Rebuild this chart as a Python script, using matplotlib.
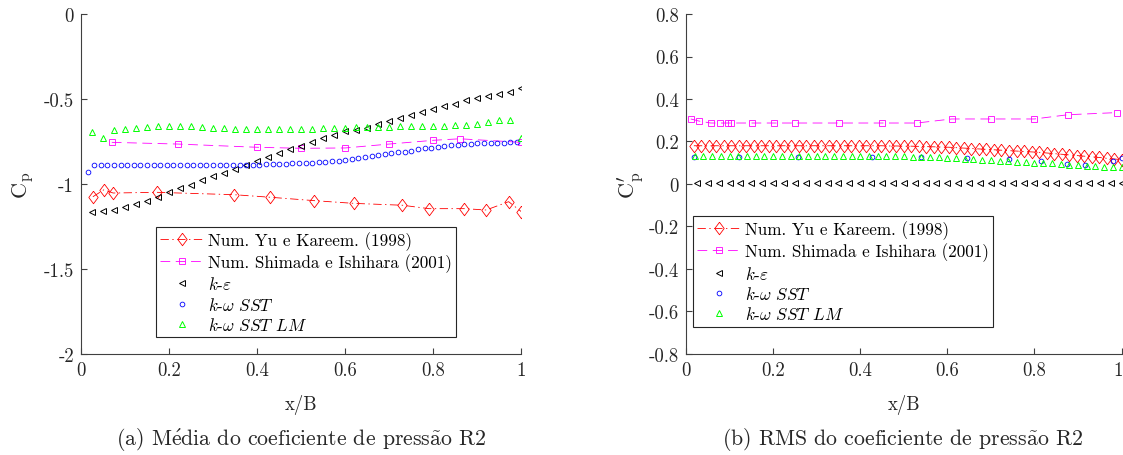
import numpy as np
import matplotlib
matplotlib.use("Agg")
import matplotlib.pyplot as plt
import matplotlib.transforms as mtransforms
from matplotlib.ticker import FuncFormatter

plt.rcParams["font.family"] = "cmr10"
plt.rcParams["mathtext.fontset"] = "cm"
plt.rcParams["axes.unicode_minus"] = False
plt.rcParams["lines.scale_dashes"] = False

# ---------------------------
# (a) mean Cp
# ---------------------------
yu_x = [0.027, 0.052, 0.073, 0.172, 0.348, 0.43, 0.53, 0.62, 0.73, 0.79, 0.87, 0.92, 0.971, 1.0]
yu_cp = [-1.075, -1.034, -1.053, -1.049, -1.063, -1.078, -1.098, -1.114, -1.125, -1.145,
         -1.145, -1.153, -1.104, -1.163]

shi_x = [0.07, 0.22, 0.40, 0.50, 0.60, 0.70, 0.80, 0.86, 1.0]
shi_cp = [-0.755, -0.765, -0.784, -0.790, -0.788, -0.765, -0.743, -0.734, -0.755]

ke_x = np.linspace(0.025, 1.0, 40)
ke_cp = [-1.163, -1.157, -1.151, -1.137, -1.120, -1.098, -1.079, -1.045, -1.024, -1.004,
         -0.979, -0.953, -0.935, -0.912, -0.886, -0.867, -0.839, -0.820, -0.794, -0.775,
         -0.751, -0.730, -0.710, -0.690, -0.682, -0.671, -0.649, -0.628, -0.612, -0.594,
         -0.575, -0.559, -0.541, -0.528, -0.508, -0.494, -0.481, -0.469, -0.457, -0.433]

sst_x = np.linspace(0.015, 0.99, 66)
sst_cp = [-0.931, -0.888, -0.888, -0.888, -0.888, -0.888, -0.888, -0.888, -0.888, -0.888,
          -0.888, -0.888, -0.888, -0.888, -0.888, -0.888, -0.888, -0.888, -0.888, -0.888,
          -0.888, -0.888, -0.888, -0.888, -0.888, -0.887, -0.886, -0.885, -0.884, -0.882,
          -0.880, -0.879, -0.877, -0.876, -0.874, -0.872, -0.869, -0.866, -0.862, -0.857,
          -0.852, -0.847, -0.842, -0.837, -0.832, -0.826, -0.820, -0.814, -0.809, -0.803,
          -0.797, -0.791, -0.786, -0.781, -0.776, -0.772, -0.768, -0.765, -0.763, -0.761,
          -0.759, -0.758, -0.757, -0.756, -0.755, -0.754]

lm_x = np.linspace(0.025, 1.0, 40)
lm_cp = [-0.696, -0.731, -0.682, -0.679, -0.671, -0.665, -0.659, -0.657, -0.657, -0.661,
         -0.667, -0.671, -0.673, -0.677, -0.679, -0.679, -0.679, -0.679, -0.677, -0.675,
         -0.675, -0.673, -0.671, -0.669, -0.667, -0.667, -0.665, -0.663, -0.661, -0.661,
         -0.659, -0.659, -0.657, -0.655, -0.653, -0.647, -0.637, -0.624, -0.622, -0.728]

# ---------------------------
# (b) rms Cp
# ---------------------------
yu_rms_x = np.linspace(0.018, 1.0, 58)
yu_rms = [0.180] * 26 + [0.179, 0.179, 0.178, 0.178, 0.177, 0.176, 0.175, 0.174, 0.173, 0.171,
                         0.169, 0.167, 0.165, 0.163, 0.161, 0.159, 0.157, 0.155, 0.153, 0.151,
                         0.149, 0.146, 0.143, 0.140, 0.137, 0.134, 0.131, 0.128, 0.125, 0.121,
                         0.118, 0.114]

shi_rms_x = [0.011, 0.030, 0.057, 0.077, 0.096, 0.103, 0.151, 0.201, 0.251, 0.352, 0.45,
             0.53, 0.61, 0.70, 0.80, 0.877, 0.989]
shi_rms = [0.306, 0.296, 0.287, 0.287, 0.287, 0.287, 0.287, 0.287, 0.287, 0.287, 0.287,
           0.287, 0.306, 0.306, 0.306, 0.326, 0.336]

ke_rms_x = np.linspace(0.025, 1.0, 40)
ke_rms = [0.004] * 40

sst_rms_x = [0.018, 0.122, 0.256, 0.426, 0.540, 0.645, 0.741, 0.815, 0.875, 0.916, 0.980, 1.0]
sst_rms = [0.129, 0.125, 0.125, 0.125, 0.127, 0.121, 0.118, 0.108, 0.096, 0.089, 0.108, 0.121]

lm_rms_x = np.linspace(0.02, 1.0, 50)
lm_rms = [0.130] * 25 + [0.129, 0.128, 0.127, 0.125, 0.122, 0.120, 0.118, 0.116, 0.113, 0.111,
                         0.109, 0.107, 0.105, 0.103, 0.101, 0.099, 0.097, 0.094, 0.091, 0.088,
                         0.085, 0.083, 0.081, 0.079, 0.078]

labels = ["Num. Yu e Kareem. (1998)", "Num. Shimada e Ishihara (2001)",
          r"$k$-$\varepsilon$", r"$k$-$\omega$ $SST$", r"$k$-$\omega$ $SST$ $LM$"]

diamond = [(0, 1), (0.75, 0), (0, -1), (-0.75, 0), (0, 1)]
axcol = "#404040"
txtcol = "#262626"


def draw(ax, series):
    (yx, yy), (sx, sy), (kx, ky), (wx, wy), (lx, ly) = series
    ax.plot(yx, yy, color="#ff0000", lw=0.6, dashes=(6, 2.5, 1, 2.5), marker=diamond,
            ms=9, mfc="none", mew=0.6, label=labels[0])
    ax.plot(sx, sy, color="#ff00ff", lw=0.6, dashes=(7, 4), marker="s",
            ms=4.5, mfc="none", mew=0.6, label=labels[1])
    ax.plot(kx, ky, ls="none", color="black", marker="<", ms=3.8, mfc="none", mew=0.7,
            label=labels[2])
    ax.plot(wx, wy, ls="none", color="#0000ff", marker="o", ms=3.4, mfc="none", mew=0.6,
            label=labels[3])
    ax.plot(lx, ly, ls="none", color="#00ff00", marker="^", ms=4.2, mfc="none", mew=0.7,
            label=labels[4])
    for s in ["top", "right"]:
        ax.spines[s].set_visible(False)
    for s in ["left", "bottom"]:
        ax.spines[s].set_color(axcol)
        ax.spines[s].set_linewidth(0.8)
    ax.tick_params(direction="in", length=4, width=0.8, color=axcol, labelsize=13.5,
                   labelcolor=txtcol, pad=5)
    ax.set_xlim(0, 1)
    ax.set_xticks([0, 0.2, 0.4, 0.6, 0.8, 1.0])
    fmt = FuncFormatter(lambda v, p: "%g" % round(v, 2))
    ax.xaxis.set_major_formatter(fmt)
    ax.yaxis.set_major_formatter(fmt)
    ax.set_xlabel("x/B", fontsize=13.5, color=txtcol, labelpad=11)


fig = plt.figure(figsize=(11.23, 4.56), dpi=100)
ax1 = fig.add_axes([0.0721, 0.2215, 0.3922, 0.7456])
ax2 = fig.add_axes([0.6109, 0.2215, 0.3878, 0.7456])

draw(ax1, [(yu_x, yu_cp), (shi_x, shi_cp), (ke_x, ke_cp), (sst_x, sst_cp), (lm_x, lm_cp)])
ax1.set_ylim(-2, 0)
ax1.set_yticks([-2, -1.5, -1, -0.5, 0])
ax1.set_ylabel(r"$\mathrm{C_p}$", fontsize=16, color=txtcol, labelpad=5)

draw(ax2, [(yu_rms_x, yu_rms), (shi_rms_x, shi_rms), (ke_rms_x, ke_rms),
           (sst_rms_x, sst_rms), (lm_rms_x, lm_rms)])
ax2.set_ylim(-0.8, 0.8)
ax2.set_yticks([-0.8, -0.6, -0.4, -0.2, 0, 0.2, 0.4, 0.6, 0.8])
ax2.set_ylabel(r"$\mathrm{C_p^{\prime}}$", fontsize=16, color=txtcol, labelpad=2)

# keep the last x tick label of (b) inside the canvas
fig.canvas.draw()
last = ax2.get_xticklabels()[-1]
last.set_transform(last.get_transform() +
                   mtransforms.ScaledTranslation(-3 / 100, 0, fig.dpi_scale_trans))

for ax, anchor in [(ax1, (0.170, 0.374)), (ax2, (0.016, 0.406))]:
    leg = ax.legend(loc="upper left", bbox_to_anchor=anchor, borderaxespad=0, fontsize=12.3,
                    handlelength=2.6, handletextpad=0.2, labelspacing=0.2, borderpad=0.25,
                    fancybox=False, framealpha=1, edgecolor=txtcol)
    leg.get_frame().set_linewidth(0.8)

fig.text(0.268, 0.025, r"(a) M$\acute{\mathrm{e}}$dia do coeficiente de press$\tilde{\mathrm{a}}$o R2",
         ha="center", fontsize=15.7, color=txtcol)
fig.text(0.804, 0.025, r"(b) RMS do coeficiente de press$\tilde{\mathrm{a}}$o R2",
         ha="center", fontsize=15.7, color=txtcol)

fig.savefig("out.png", dpi=100)
